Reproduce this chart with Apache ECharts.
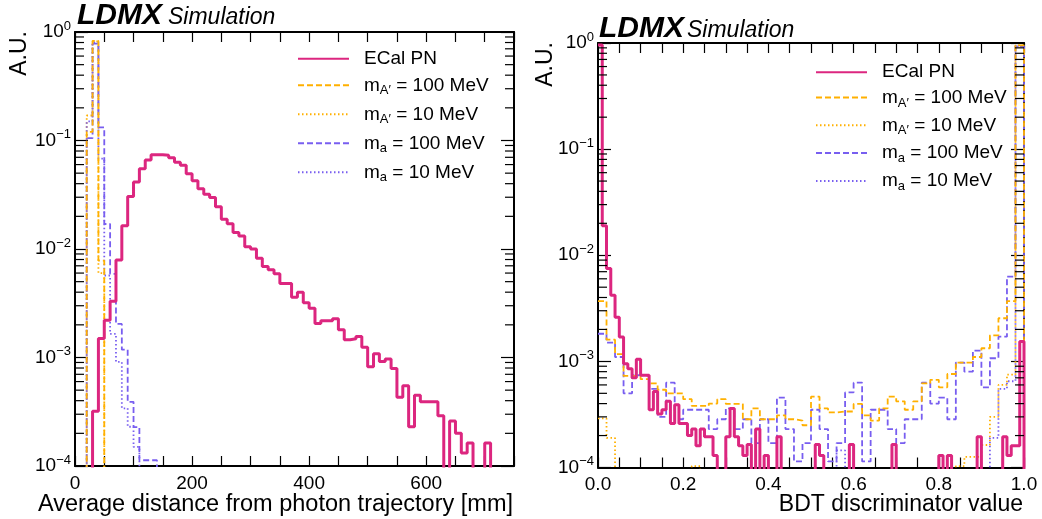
<!DOCTYPE html>
<html><head><meta charset="utf-8">
<script src="https://cdn.jsdelivr.net/npm/echarts@6/dist/echarts.min.js"></script>
<style>html,body{margin:0;padding:0;background:#fff}#c{width:1042px;height:519px}</style>
</head><body><div id="c"></div><script>
// ---------- DATA ----------
// Left panel: average distance from photon trajectory, bins of 10 mm starting at 0
const leftBinStart = 0, leftBinWidth = 10;
const ecalL = [0,0,0,3.2e-4,1.5e-3,2.2e-3,3.3e-3,7.9e-3,1.64e-2,3.05e-2,
  4.15e-2,5.5e-2,6.6e-2,7.4e-2,7.4e-2,7.3e-2,6.95e-2,6.3e-2,5.9e-2,4.95e-2,
  4.25e-2,3.6e-2,3.2e-2,2.98e-2,2.45e-2,1.88e-2,1.71e-2,1.42e-2,1.32e-2,1.05e-2,
  1.0e-2,8.2e-3,6.9e-3,6.45e-3,5.9e-3,4.8e-3,4.8e-3,3.6e-3,4.0e-3,3.2e-3,
  2.85e-3,2.06e-3,2.18e-3,2.18e-3,2.28e-3,1.8e-3,1.46e-3,1.49e-3,1.56e-3,1.24e-3,
  8.2e-4,1.08e-3,9.2e-4,9.7e-4,7.9e-4,4.3e-4,5.5e-4,2.3e-4,4.5e-4,3.9e-4,
  3.9e-4,3.9e-4,2.9e-4,0,2.6e-4,2.0e-4,1.32e-4,1.63e-4,0,0,
  1.63e-4,0,0,0,0];
const mAp100L = [0,0,0.12,0.83,7.8e-3,0];
const mAp10L  = [0,0,0.17,0.82,6.0e-3,0];
const ma100L  = [0,0,0.105,0.78,0.132,1.7e-2,5.9e-3,2.04e-3,1.18e-3,3.9e-4,2.28e-4,1.13e-4,1.13e-4,1.13e-4,0];
const ma10L   = [0,0,0.15,0.80,0.068,5.7e-3,1.65e-3,9.1e-4,3.4e-4,2.3e-4,1.5e-4,0];

// Right panel: BDT discriminator value; background in bins of 0.01, signals in bins of 0.02
const rightBinStart = 0, bkgBinWidth = 0.01, sigBinWidth = 0.02;
const ecalR = [0.96,0.019,7.5e-3,4.2e-3,2.6e-3,1.7e-3,9.5e-4,8.5e-4,7.0e-4,1.05e-3,
  7.4e-4,7.4e-4,3.5e-4,5.2e-4,3.2e-4,3.5e-4,4.2e-4,2.6e-4,3.9e-4,2.6e-4,
  2.6e-4,2.0e-4,2.3e-4,1.6e-4,2.3e-4,1.95e-4,1.95e-4,1.3e-4,0,0,
  1.95e-4,3.6e-4,1.95e-4,1.6e-4,1.3e-4,1.65e-4,0,2.3e-4,0,1.3e-4,
  0,0,1.95e-4,0,0,0,0,0,0,0,
  0,1.65e-4,1.3e-4,0,0,0,0,0,0,1.65e-4,
  0,0,0,0,0,0,0,0,0,1.65e-4,
  0,0,0,0,0,0,0,0,0,0,
  1.3e-4,0,1.3e-4,0,0,0,0,0,0,1.95e-4,
  0,0,0,0,0,1.95e-4,1.3e-4,1.6e-4,1.6e-4,1.54e-3];
const mAp100R = [3.7e-3,1.6e-3,1.17e-3,7.3e-4,7.3e-4,6.8e-4,6.2e-4,5.4e-4,5.0e-4,5.0e-4,
  4.4e-4,3.8e-4,3.8e-4,4.0e-4,4.4e-4,3.97e-4,3.97e-4,2.85e-4,3.6e-4,2.85e-4,
  2.85e-4,3.1e-4,2.85e-4,2.77e-4,2.5e-4,4.65e-4,3.6e-4,3.3e-4,3.37e-4,3.37e-4,
  3.97e-4,3.1e-4,2.77e-4,3.6e-4,4.65e-4,4.2e-4,3.5e-4,4.2e-4,6.2e-4,6.7e-4,
  5.7e-4,7.6e-4,9.75e-4,9.75e-4,1.1e-3,1.33e-3,1.76e-3,2.55e-3,3.7e-3,0.95];
const mAp10R = [2.9e-4,1.9e-4,0,0,0,0,0,0,0,0,
  0,1.03e-4,0,0,0,0,0,0,0,0,
  0,0,0,0,0,0,0,0,0,0,
  0,0,0,0,0,0,0,0,0,0,
  0,0,1.03e-4,1.26e-4,1.26e-4,1.63e-4,3.0e-4,6.0e-4,7.5e-4,0.95];
const ma100R = [1.82e-3,1.5e-3,1.1e-3,5.0e-4,7.4e-4,7.3e-4,5.5e-4,3.0e-4,6.3e-4,2.85e-4,
  3.5e-4,3.5e-4,3.5e-4,2.3e-4,2.85e-4,3.6e-4,2.3e-4,2.85e-4,1.7e-4,2.85e-4,
  1.7e-4,4.55e-4,2.3e-4,1.14e-4,1.7e-4,3.5e-4,2.3e-4,1.14e-4,1.7e-4,5.1e-4,
  6.3e-4,1.14e-4,3.5e-4,3.5e-4,2.3e-4,1.7e-4,2.85e-4,2.85e-4,6.3e-4,4.0e-4,
  4.55e-4,2.85e-4,9.75e-4,8.0e-4,1.26e-3,5.7e-4,1.07e-3,1.71e-3,6.3e-3,0.93];
const ma10R = [0,0,0,0,0,0,0,0,0,0,
  0,0,0,0,0,0,0,0,0,0,
  0,0,0,0,0,0,0,0,1.45e-4,0,
  0,0,0,0,0,0,0,0,0,0,
  0,0,0,0,0,0,1.9e-4,5.5e-4,6.5e-4,0.93];

// Axis ticks / labels
const yDecades = [1e-4, 1e-3, 1e-2, 1e-1];
const yMinorMult = [2,3,4,5,6,7,8,9];
const leftXLabels = [0, 200, 400, 600];
const rightXLabels = [0.0, 0.2, 0.4, 0.6, 0.8, 1.0];
const seriesNames = ['ECal PN', 'mAp100', 'mAp10', 'ma100', 'ma10'];
const legendLabels = {
  'ECal PN': '{t|ECal PN}',
  'mAp100': '{t|m}{s|A\u2032}{t| = 100 MeV}',
  'mAp10':  '{t|m}{s|A\u2032}{t| = 10 MeV}',
  'ma100':  '{t|m}{s|a}{t| = 100 MeV}',
  'ma10':   '{t|m}{s|a}{t| = 10 MeV}'
};

// ---------- STYLE ----------
const FONT = '"Liberation Sans", Arial, Helvetica, sans-serif';
const C_BKG = '#DC267F', C_AP = '#FFB000', C_A = '#785EF0';
const FLOOR = 1e-8;
const MINOR_LEN = 9;

function histPoints(start, width, vals) {
  const pts = [];
  for (let i = 0; i < vals.length; i++) pts.push([start + i * width, vals[i] > 0 ? vals[i] : FLOOR]);
  pts.push([start + vals.length * width, FLOOR]);
  return pts;
}
const minorVals = [];
yDecades.forEach(d => yMinorMult.forEach(m => minorVals.push(m * d)));

function lineSeries(name, pts, color, width, type, gi) {
  return {
    name, type: 'line', xAxisIndex: gi * 2, yAxisIndex: gi * 2, data: pts,
    step: 'end', symbol: 'none', showSymbol: false, clip: true, silent: true,
    lineStyle: { color, width, type }, itemStyle: { color }, z: type === 'solid' ? 4 : 3
  };
}
function minorTickSeries(gi) {
  return {
    type: 'custom', name: 'minor' + gi, xAxisIndex: gi * 2, yAxisIndex: gi * 2, silent: true, clip: false, z: 5,
    data: minorVals.map(v => [0, v]), encode: { x: 0, y: 1 },
    renderItem: (params, api) => {
      const cs = params.coordSys;
      const y = api.coord([0, api.value(1)])[1];
      const st = { stroke: '#000', lineWidth: 1.2 };
      return { type: 'group', children: [
        { type: 'line', shape: { x1: cs.x, y1: y, x2: cs.x + MINOR_LEN, y2: y }, style: st },
        { type: 'line', shape: { x1: cs.x + cs.width - MINOR_LEN, y1: y, x2: cs.x + cs.width, y2: y }, style: st }
      ]};
    }
  };
}
const axisLine = { show: true, onZero: false, lineStyle: { color: '#000', width: 2 } };
function xAxes(gi, min, max, interval, fmt) {
  return [{
    type: 'value', gridIndex: gi, min, max, interval, position: 'bottom',
    axisLine, splitLine: { show: false },
    axisTick: { show: true, inside: true, length: 10, lineStyle: { color: '#000', width: 1.2 } },
    axisLabel: { show: true, margin: 8, color: '#000', fontFamily: FONT, fontSize: 19, formatter: fmt, showMinLabel: true, showMaxLabel: true }
  }, {
    type: 'value', gridIndex: gi, min, max, interval, position: 'top',
    axisLine, splitLine: { show: false },
    axisTick: { show: true, inside: true, length: 10, lineStyle: { color: '#000', width: 1.2 } },
    axisLabel: { show: false }
  }];
}
function yAxes(gi) {
  const fmt = v => {
    const e = Math.round(Math.log10(v));
    return '{b|10}{e|' + (e < 0 ? '\u2212' + (-e) : String(e)) + '}';
  };
  return [{
    type: 'log', logBase: 10, gridIndex: gi, min: 1e-4, max: 1, splitNumber: 4, position: 'left',
    axisLine, splitLine: { show: false },
    axisTick: { show: true, inside: true, length: 13, lineStyle: { color: '#000', width: 1.2 } },
    axisLabel: { show: true, margin: 4, formatter: fmt, showMinLabel: true, showMaxLabel: true,
      rich: { b: { fontFamily: FONT, fontSize: 19, color: '#000' },
              e: { fontFamily: FONT, fontSize: 13, color: '#000', padding: [0, 0, 12, 0] } } }
  }, {
    type: 'log', logBase: 10, gridIndex: gi, min: 1e-4, max: 1, splitNumber: 4, position: 'right',
    axisLine, splitLine: { show: false },
    axisTick: { show: true, inside: true, length: 13, lineStyle: { color: '#000', width: 1.2 } },
    axisLabel: { show: false }
  }];
}
function legend(left, top, gap) {
  return {
    data: seriesNames, orient: 'vertical', left, top, padding: 0,
    itemWidth: 51, itemHeight: 14, itemGap: gap,
    selectedMode: false,
    itemStyle: { opacity: 0, borderWidth: 0 },
    formatter: n => legendLabels[n],
    textStyle: { padding: [0, 0, 0, 10], rich: {
      t: { fontFamily: FONT, fontSize: 19, color: '#000', lineHeight: 24 },
      s: { fontFamily: FONT, fontSize: 13, color: '#000', lineHeight: 15, verticalAlign: 'bottom' } } }
  };
}

const leftFmt = v => leftXLabels.indexOf(Math.round(v)) >= 0 && Math.abs(v - Math.round(v)) < 1e-6 ? String(Math.round(v)) : '';
const rightFmt = v => {
  const hit = rightXLabels.find(t => Math.abs(t - v) < 1e-6);
  return hit === undefined ? '' : hit.toFixed(1);
};

const series = [
  lineSeries('mAp10', histPoints(leftBinStart, leftBinWidth, mAp10L), C_AP, 1.8, [1.5, 2.5], 0),
  lineSeries('ma10', histPoints(leftBinStart, leftBinWidth, ma10L), C_A, 1.8, [1.5, 2.5], 0),
  lineSeries('ma100', histPoints(leftBinStart, leftBinWidth, ma100L), C_A, 1.8, [6, 3], 0),
  lineSeries('mAp100', histPoints(leftBinStart, leftBinWidth, mAp100L), C_AP, 1.8, [6, 3], 0),
  lineSeries('ECal PN', histPoints(leftBinStart, leftBinWidth, ecalL), C_BKG, 3, 'solid', 0),
  lineSeries('mAp10', histPoints(rightBinStart, sigBinWidth, mAp10R), C_AP, 1.8, [1.5, 2.5], 1),
  lineSeries('ma10', histPoints(rightBinStart, sigBinWidth, ma10R), C_A, 1.8, [1.5, 2.5], 1),
  lineSeries('ma100', histPoints(rightBinStart, sigBinWidth, ma100R), C_A, 1.8, [6, 3], 1),
  lineSeries('mAp100', histPoints(rightBinStart, sigBinWidth, mAp100R), C_AP, 1.8, [6, 3], 1),
  lineSeries('ECal PN', histPoints(rightBinStart, bkgBinWidth, ecalR), C_BKG, 3, 'solid', 1),
  minorTickSeries(0), minorTickSeries(1)
];

const txt = (x, y, text, font, extra) => Object.assign({ type: 'text', x, y, silent: true,
  style: Object.assign({ text, font, fill: '#000', textVerticalAlign: 'middle' }, extra || {}) });

const option = {
  animation: false,
  backgroundColor: '#fff',
  grid: [
    { left: 75, top: 32, right: 528, bottom: 53, outerBoundsMode: 'none', containLabel: false },
    { left: 598, top: 43, right: 18, bottom: 51.5, outerBoundsMode: 'none', containLabel: false }
  ],
  xAxis: [...xAxes(0, 0, 750, 50, leftFmt), ...xAxes(1, 0, 1, 0.05, rightFmt)],
  yAxis: [...yAxes(0), ...yAxes(1)],
  legend: [legend(297, 49.3, 7.5), legend(815, 62.7, 6.3)],
  series,
  graphic: [
    txt(77, 15.5, 'LDMX', 'italic bold 30px ' + FONT),
    txt(168, 17.8, 'Simulation', 'italic 23px ' + FONT),
    txt(599, 28.5, 'LDMX', 'italic bold 30px ' + FONT),
    txt(687, 31, 'Simulation', 'italic 23px ' + FONT),
    Object.assign(txt(20, 31, 'A.U.', '23px ' + FONT, { textAlign: 'right' }), { rotation: Math.PI / 2 }),
    Object.assign(txt(546, 42, 'A.U.', '23px ' + FONT, { textAlign: 'right' }), { rotation: Math.PI / 2 }),
    txt(513, 505, 'Average distance from photon trajectory [mm]', '23.5px ' + FONT, { textAlign: 'right' }),
    txt(1023, 505, 'BDT discriminator value', '23px ' + FONT, { textAlign: 'right' })
  ]
};
const chart = echarts.init(document.getElementById('c'), null, { renderer: 'canvas' });
chart.setOption(option);
</script></body></html>
